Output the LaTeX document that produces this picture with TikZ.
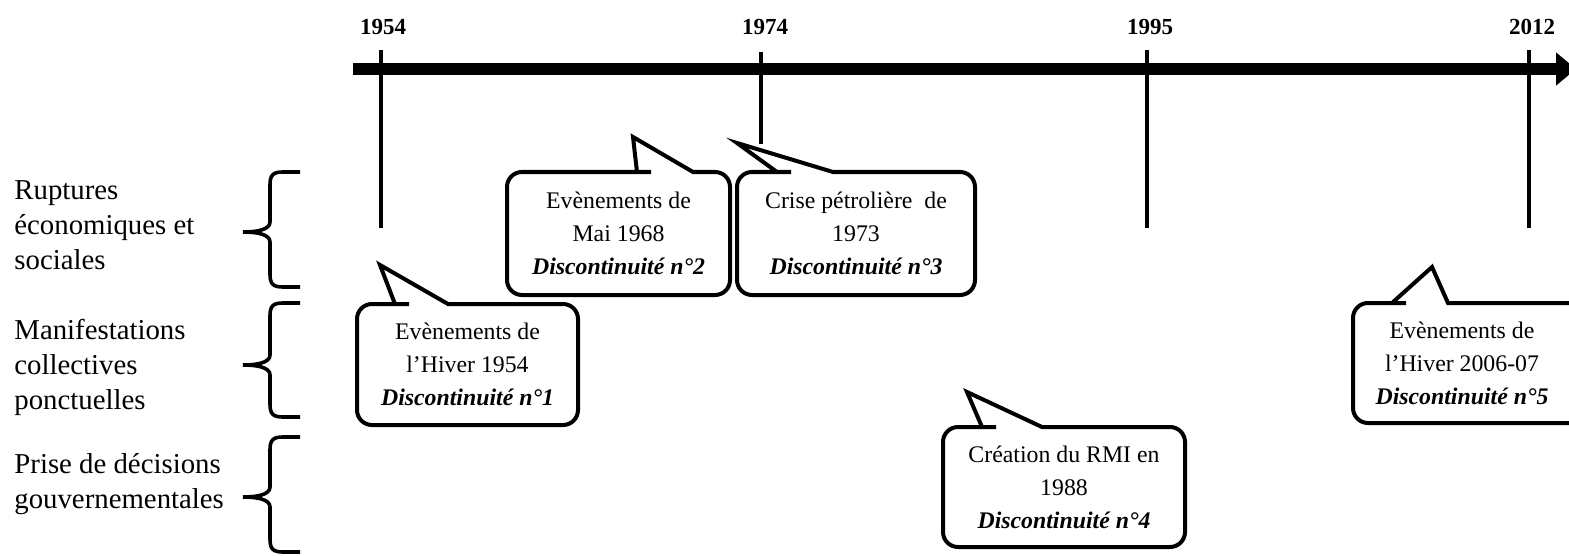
\documentclass[tikz,border=0pt]{standalone}
\usepackage{fontspec}
\setmainfont{Liberation Serif}
\usepackage{tikz}
\usetikzlibrary{arrows.meta}
\newcommand{\discont}[1]{\textbf{\textit{Discontinuité n°#1}}}

\begin{document}
\begin{tikzpicture}[x = 0.5pt, y = -0.5pt,
    year/.style = {font = \bfseries\fontsize{11.5}{13}\selectfont, inner sep = 0pt},
    tick/.style = {line width = 1.8pt},
    rubrique/.style = {anchor = west, align = left, inner sep = 0pt, font = \fontsize{14.4}{17.5}\selectfont},
    bracket/.style = {line width = 1.8pt},
    boxtext/.style = {align = center, inner sep = 0pt, outer sep = 0pt, font = \fontsize{11.9}{16.5}\selectfont},
    bubble/.style = {line width = 2pt}]
        \useasboundingbox (0, 0) rectangle (1569, 556);
        \clip (0, 0) rectangle (1569, 556);

        % axe du temps
        \draw [line width = 6pt, -{Triangle[length = 10pt, width = 16pt]}] (353, 69) -- (1576, 69);

        \node [year] (y1954) at (383, 27) {1954};
        \node [year] (y1974) at (765, 27) {1974};
        \node [year] (y1995) at (1150, 27) {1995};
        \node [year] (y2012) at (1532, 27) {2012};

        \coordinate (t1954) at (381, 50);
        \coordinate (t1974) at (761, 52);
        \coordinate (t1995) at (1147, 50);
        \coordinate (t2012) at (1529, 50);
        \draw [tick] (t1954) -- ++(0, 178);
        \draw [tick] (t1974) -- ++(0, 92);
        \draw [tick] (t1995) -- ++(0, 178);
        \draw [tick] (t2012) -- ++(0, 178);

        % rubriques
        \node [rubrique] (rupt) at (14, 225) {Ruptures\\économiques et\\sociales};
        \node [rubrique] (manif) at (14, 367) {Manifestations\\collectives\\ponctuelles};
        \node [rubrique] (prise) at (14, 484) {Prise de décisions\\gouvernementales};

        \draw [bracket] (300, 172) -- (283, 172) .. controls (273, 172) and (270, 175) .. (270, 185) -- (270, 222)
          .. controls (270, 230) and (256, 232) .. (243, 232) .. controls (256, 232) and (270, 234) .. (270, 242)
          -- (270, 274) .. controls (270, 284) and (273, 287) .. (283, 287) -- (300, 287);
        \draw [bracket] (300, 303) -- (283, 303) .. controls (273, 303) and (270, 306) .. (270, 316) -- (270, 355)
          .. controls (270, 363) and (256, 365) .. (243, 365) .. controls (256, 365) and (270, 367) .. (270, 375)
          -- (270, 404) .. controls (270, 414) and (273, 417) .. (283, 417) -- (300, 417);
        \draw [bracket] (300, 437) -- (283, 437) .. controls (273, 437) and (270, 440) .. (270, 450) -- (270, 487)
          .. controls (270, 495) and (256, 497) .. (243, 497) .. controls (256, 497) and (270, 499) .. (270, 507)
          -- (270, 539) .. controls (270, 549) and (273, 552) .. (283, 552) -- (300, 552);

        % bulles
        \node [boxtext, minimum width = 110.5pt, minimum height = 60.5pt] (b1) at (467.5, 364.5)
          {Evènements de\\l’Hiver 1954\\\discont{1}};
        \draw [bubble] (448, 304) -- (449, 304) [rounded corners = 7.5pt] -- (b1.north east) -- (b1.south east)
          -- (b1.south west) -- (b1.north west) -- (394, 304) [sharp corners] -- (395, 304) -- (380, 265) -- cycle;

        \node [boxtext, minimum width = 111.5pt, minimum height = 61.5pt] (b2) at (618.5, 233.5)
          {Evènements de\\Mai 1968\\\discont{2}};
        \draw [bubble] (693, 172) -- (694, 172) [rounded corners = 7.5pt] -- (b2.north east) -- (b2.south east)
          -- (b2.south west) -- (b2.north west) -- (636, 172) [sharp corners] -- (637, 172) -- (633, 137) -- cycle;

        \node [boxtext, minimum width = 119pt, minimum height = 61.5pt] (b3) at (856, 233.5)
          {Crise pétrolière\ \ de\\1973\\\discont{3}};
        \draw [bubble] (833, 172) -- (834, 172) [rounded corners = 7.5pt] -- (b3.north east) -- (b3.south east)
          -- (b3.south west) -- (b3.north west) -- (776, 172) [sharp corners] -- (777, 172) -- (737, 143) -- cycle;

        \node [boxtext, minimum width = 121pt, minimum height = 60pt] (b4) at (1064, 487)
          {Création du RMI en\\1988\\\discont{4}};
        \draw [bubble] (1042, 427) -- (1043, 427) [rounded corners = 7.5pt] -- (b4.north east) -- (b4.south east)
          -- (b4.south west) -- (b4.north west) -- (981, 427) [sharp corners] -- (982, 427) -- (967, 392) -- cycle;

        % la bulle 5 sort du cadre a droite
        \node [boxtext, minimum width = 109pt, minimum height = 60pt] (b5) at (1462, 363)
          {Evènements de\\l’Hiver 2006-07\\\discont{5}};
        \draw [bubble] (1448, 303) -- (1449, 303) [rounded corners = 7.5pt] -- ([xshift = 8pt]b5.north east)
          -- ([xshift = 8pt]b5.south east) -- (b5.south west) -- (b5.north west) -- (1391, 303) [sharp corners]
          -- (1392, 303) -- (1432, 267) -- cycle;

\end{tikzpicture}
\end{document}
